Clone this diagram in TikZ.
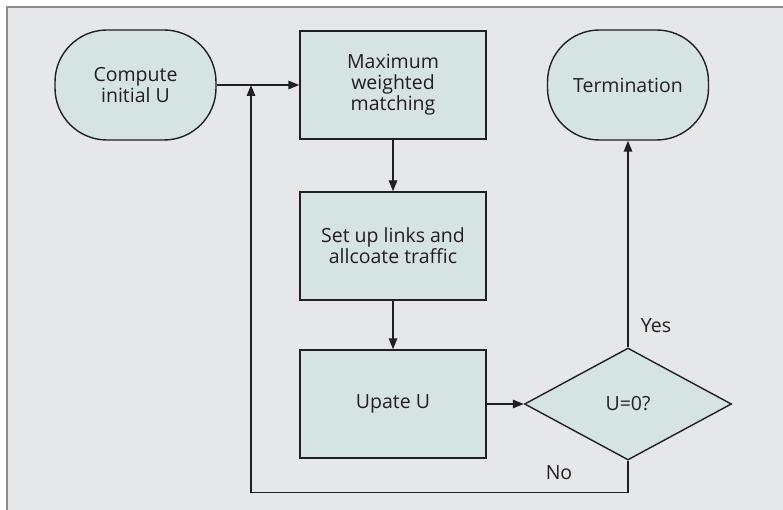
\documentclass[tikz,border=0pt]{standalone}
\usepackage{fontspec}
\setmainfont{Open Sans}
\usetikzlibrary{arrows.meta,shapes.geometric}
\definecolor{panel}{HTML}{E6E7E9}
\definecolor{boxfill}{HTML}{D6E4E1}
\definecolor{ink}{HTML}{231F20}
\definecolor{rim}{HTML}{8C8C8E}

\begin{document}
\begin{tikzpicture}[x=1pt, y=-1pt,
    every node/.style={font=\fontsize{19.5}{21}\selectfont, text=ink},
    task/.style={rectangle, draw=ink, line width=1.4pt, fill=boxfill, minimum width=186pt, minimum height=108pt, align=center, inner sep=0pt},
    ends/.style={rectangle, rounded corners=52pt, draw=ink, line width=1.4pt, fill=boxfill, minimum width=161pt, minimum height=110pt, align=center, inner sep=0pt},
    test/.style={diamond, draw=ink, line width=1.4pt, fill=boxfill, minimum width=207pt, minimum height=112pt, inner sep=0pt, aspect=1.85},
    flow/.style={draw=ink, line width=1.4pt, -{Triangle[length=11pt,width=8.5pt]}}]

    \useasboundingbox (0,0) rectangle (783,510);
    \fill[panel] (7,7) rectangle (783,510);
    \draw[rim, line width=2pt] (7,510) -- (7,7) -- (783,7);

    \node[ends] (init) at (135.5,85) {Compute\\initial U};
    \node[task] (match) at (393,85) {Maximum\\weighted\\matching};
    \node[task] (links) at (393,246) {Set up links and\\allcoate traffic};
    \node[task] (upd) at (393,404) {Upate U};
    \node[test] (check) at (628,404) {U=0?};
    \node[ends] (term) at (628,85) {Termination};
    \coordinate (join) at (251,85);

    \draw[flow] (init) -- (match);
    \draw[flow] (match) -- (links);
    \draw[flow] (links) -- (upd);
    \draw[flow] (upd) -- (check);
    \draw[flow] (check.north) -- (term.south);
    \draw[flow] (check.south) -- ++(0,32) -| (join);

    \node (yes) at (656,326) {Yes};
    \node (no) at (559,473) {No};

\end{tikzpicture}
\end{document}
